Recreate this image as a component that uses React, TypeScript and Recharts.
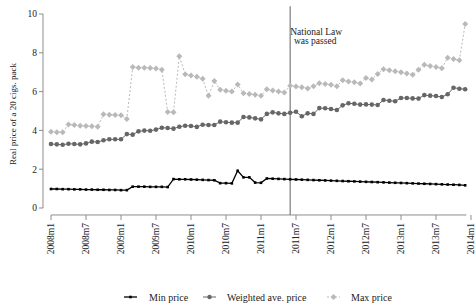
import React from 'react';
import { LineChart, Line, XAxis, YAxis, ReferenceLine, Legend } from 'recharts';

// Monthly series, 2008m1 .. 2013m12 (72 months)
const maxPrice = [
  3.93, 3.90, 3.90, 4.31, 4.28, 4.24, 4.23, 4.21, 4.19, 4.83, 4.81, 4.79,
  4.78, 4.59, 7.27, 7.23, 7.23, 7.22, 7.19, 7.13, 4.95, 4.93, 7.82, 6.90,
  6.83, 6.76, 6.66, 5.78, 6.54, 6.10, 6.04, 6.00, 6.36, 5.91, 5.88, 5.84,
  5.78, 6.12, 6.06, 6.01, 5.96, 6.30, 6.26, 6.23, 6.16, 6.28, 6.43, 6.39,
  6.35, 6.28, 6.58, 6.52, 6.48, 6.42, 6.70, 6.62, 6.91, 7.15, 7.10, 7.05,
  7.00, 6.93, 6.87, 7.13, 7.38, 7.32, 7.27, 7.20, 7.75, 7.68, 7.61, 9.48,
];

const weightedPrice = [
  3.30, 3.28, 3.26, 3.31, 3.30, 3.28, 3.33, 3.42, 3.40, 3.49, 3.54, 3.54,
  3.54, 3.81, 3.78, 3.95, 3.99, 3.98, 4.04, 4.14, 4.12, 4.09, 4.19, 4.24,
  4.23, 4.18, 4.29, 4.28, 4.28, 4.45, 4.42, 4.40, 4.40, 4.69, 4.67, 4.62,
  4.57, 4.85, 4.93, 4.88, 4.85, 4.91, 4.96, 4.73, 4.88, 4.85, 5.15, 5.14,
  5.10, 5.05, 5.29, 5.40, 5.37, 5.33, 5.34, 5.33, 5.31, 5.57, 5.53, 5.50,
  5.67, 5.67, 5.65, 5.64, 5.82, 5.79, 5.77, 5.72, 5.86, 6.20, 6.15, 6.12,
];

const minPrice = [
  0.98, 0.98, 0.97, 0.97, 0.96, 0.96, 0.95, 0.95, 0.94, 0.94, 0.93, 0.93,
  0.92, 0.92, 1.10, 1.10, 1.10, 1.09, 1.09, 1.09, 1.08, 1.49, 1.48, 1.48,
  1.47, 1.46, 1.45, 1.44, 1.43, 1.28, 1.28, 1.27, 1.92, 1.58, 1.58, 1.31,
  1.30, 1.52, 1.51, 1.50, 1.49, 1.48, 1.47, 1.46, 1.45, 1.44, 1.43, 1.42,
  1.41, 1.40, 1.39, 1.38, 1.37, 1.36, 1.35, 1.34, 1.33, 1.32, 1.31, 1.30,
  1.29, 1.28, 1.27, 1.26, 1.25, 1.24, 1.23, 1.22, 1.21, 1.20, 1.19, 1.17,
];

const xTickPositions = [0, 6, 12, 18, 24, 30, 36, 42, 48, 54, 60, 66, 72];
const xTickLabels = [
  '2008m1', '2008m7', '2009m1', '2009m7', '2010m1', '2010m7', '2011m1',
  '2011m7', '2012m1', '2012m7', '2013m1', '2013m7', '2014m1',
];
const yTicks = [0, 2, 4, 6, 8, 10];
const lawMonth = 41; // 2011m6
const lawLabel = ['National Law', 'was passed'];
const seriesNames = ['Min price', 'Weighted ave. price', 'Max price'];

const data = maxPrice.map((_, i) => ({
  t: i,
  min: minPrice[i],
  avg: weightedPrice[i],
  max: maxPrice[i],
}));

const FONT = '"Liberation Serif", "DejaVu Serif", serif';
const AXIS = '#8c8c8c';
const TEXT = '#222';
const C_MIN = '#000000';
const C_AVG = '#666666';
const C_MAX = '#b9b9b9';

const XTick = (props: any) => {
  const { x, y, payload } = props;
  const idx = xTickPositions.indexOf(payload.value);
  return (
    <g transform={`translate(${x},${y})`}>
      <text
        transform="rotate(-90)"
        textAnchor="end"
        dy="0.33em"
        fontSize={9.5}
        fontFamily={FONT}
        fill={TEXT}
      >
        {xTickLabels[idx]}
      </text>
    </g>
  );
};

const minDot = (p: any) => (
  <rect key={`mn${p.index}`} x={p.cx - 1.3} y={p.cy - 1.3} width={2.6} height={2.6} fill={C_MIN} />
);
const avgDot = (p: any) => (
  <circle key={`av${p.index}`} cx={p.cx} cy={p.cy} r={2.3} fill={C_AVG} />
);
const maxDot = (p: any) => (
  <polygon
    key={`mx${p.index}`}
    points={`${p.cx},${p.cy - 3} ${p.cx + 3},${p.cy} ${p.cx},${p.cy + 3} ${p.cx - 3},${p.cy}`}
    fill={C_MAX}
  />
);

const LawLabel = (props: any) => {
  const vb = props.viewBox || {};
  const cx = (vb.x ?? 0) + 26;
  return (
    <g fontFamily={FONT} fontSize={9.5} fill={TEXT}>
      <text x={cx} y={35} textAnchor="middle">{lawLabel[0]}</text>
      <text x={cx - 1} y={44} textAnchor="middle">{lawLabel[1]}</text>
    </g>
  );
};

const YTitle = () => (
  <text
    transform="translate(16,114) rotate(-90)"
    textAnchor="middle"
    fontFamily={FONT}
    fontSize={9}
    fill={TEXT}
  >
    Real price of a 20 cigs. pack
  </text>
);

const LegendContent = () => {
  const items = [
    { x: 124, tx: 149, color: C_MIN, dash: undefined, w: 1.3, kind: 'sq' },
    { x: 203, tx: 227, color: C_AVG, dash: undefined, w: 1, kind: 'ci' },
    { x: 327, tx: 351, color: C_MAX, dash: '2 2', w: 1, kind: 'di' },
  ];
  return (
    <svg width={476} height={14}>
      {items.map((it, i) => (
        <g key={i}>
          <line x1={it.x} y1={7} x2={it.x + 13} y2={7} stroke={it.color} strokeWidth={it.w} strokeDasharray={it.dash} />
          {it.kind === 'sq' && <rect x={it.x + 5.2} y={5.7} width={2.6} height={2.6} fill={it.color} />}
          {it.kind === 'ci' && <circle cx={it.x + 6.5} cy={7} r={2.2} fill={it.color} />}
          {it.kind === 'di' && (
            <polygon points={`${it.x + 6.5},4 ${it.x + 9.5},7 ${it.x + 6.5},10 ${it.x + 3.5},7`} fill={it.color} />
          )}
          <text x={it.tx} y={10.5} fontFamily={FONT} fontSize={10} fill={TEXT}>
            {seriesNames[i]}
          </text>
        </g>
      ))}
    </svg>
  );
};

export default function App() {
  return (
    <div style={{ position: 'absolute', left: 0, top: 0, width: 476, height: 304, background: '#fff' }}>
      <LineChart
        width={476}
        height={304}
        data={data}
        margin={{ top: 14, right: 5, bottom: 49, left: 13 }}
      >
        <XAxis
          type="number"
          dataKey="t"
          domain={[0, 72]}
          ticks={xTickPositions}
          padding={{ left: 8, right: 0 }}
          axisLine={false}
          tickLine={{ stroke: AXIS }}
          tickSize={5}
          tickMargin={3}
          height={40}
          interval={0}
          tick={<XTick />}
        />
        <YAxis
          type="number"
          domain={[0, 10]}
          ticks={yTicks}
          padding={{ top: 0, bottom: 7 }}
          axisLine={false}
          tickLine={{ stroke: AXIS }}
          tickSize={4}
          width={30}
          tick={{ fontSize: 9.5, fontFamily: FONT, fill: TEXT }}
          label={<YTitle />}
        />
        <ReferenceLine
          segment={[{ x: -8 / 5.8333, y: 0 }, { x: -8 / 5.8333, y: 10 }]}
          stroke={AXIS}
          strokeWidth={1}
          ifOverflow="visible"
        />
        <ReferenceLine
          segment={[{ x: 0, y: -0.36 }, { x: 71.2, y: -0.36 }]}
          stroke={AXIS}
          strokeWidth={1}
          ifOverflow="visible"
        />
        <ReferenceLine
          segment={[{ x: lawMonth, y: 10.4 }, { x: lawMonth, y: -0.36 }]}
          stroke="#7a7a7a"
          strokeWidth={1.2}
          ifOverflow="visible"
          label={<LawLabel />}
        />
        <Line
          type="linear"
          dataKey="max"
          stroke={C_MAX}
          strokeWidth={1}
          strokeDasharray="2 2"
          dot={maxDot}
          isAnimationActive={false}
        />
        <Line
          type="linear"
          dataKey="avg"
          stroke={C_AVG}
          strokeWidth={1}
          dot={avgDot}
          isAnimationActive={false}
        />
        <Line
          type="linear"
          dataKey="min"
          stroke={C_MIN}
          strokeWidth={1.3}
          dot={minDot}
          isAnimationActive={false}
        />
        <Legend
          layout="horizontal"
          verticalAlign="middle"
          align="center"
          wrapperStyle={{ position: 'absolute', left: 0, top: 290, width: 476, height: 14 }}
          content={<LegendContent />}
        />
      </LineChart>
    </div>
  );
}
